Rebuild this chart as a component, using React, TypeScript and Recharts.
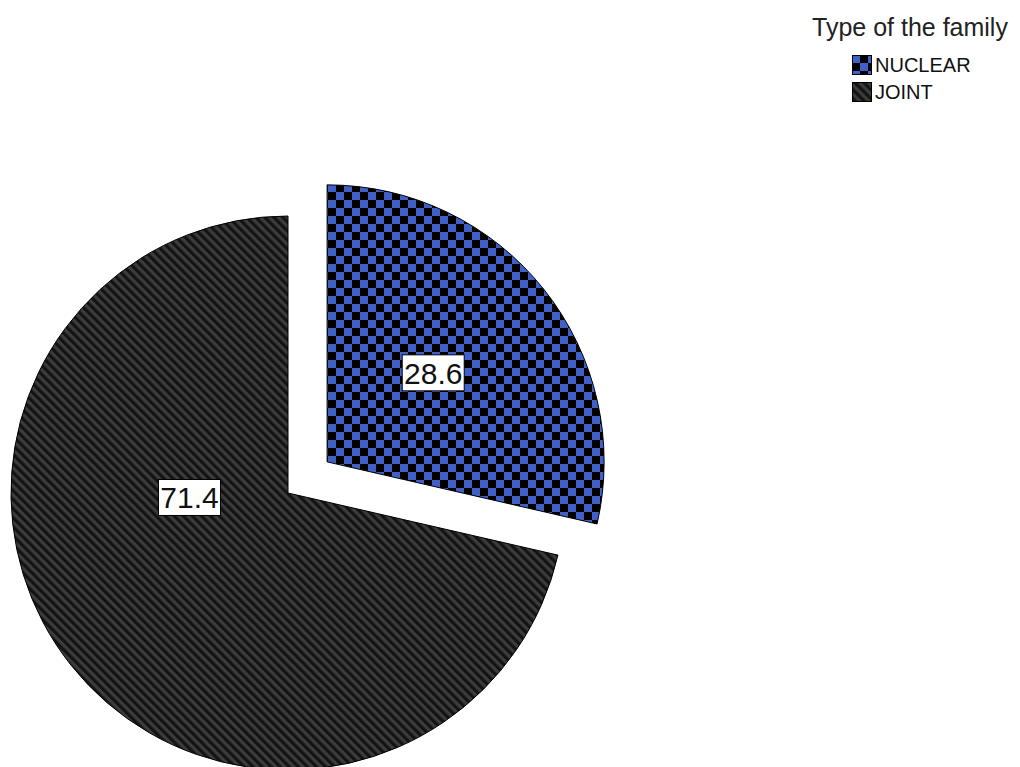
import React from "react";
import { PieChart, Pie, Cell, Legend } from "recharts";

const categories = ["NUCLEAR", "JOINT"];
const percents = [28.6, 71.4];
const legendTitle = "Type of the family";

const W = 1020;
const H = 767;
const CX = 288;
const CY = 493;
const R = 277;
const EXPLODE = 50; // nuclear slice is pulled out
const START = 90;
const END = -270;
const FONT = "'Liberation Sans', Arial, sans-serif";
const BLUE = "#4060c8";
const SQ = 8; // checker square
const ST = 6.4; // stripe period

// where each value label sits: angle (deg, math) and fraction of radius
const LABEL_POS = [
  { angle: 40, dist: 0.5 },
  { angle: 182.6, dist: 0.356 },
];

const data = categories.map((name, i) => ({ name, value: percents[i] }));
const total = percents.reduce((a, b) => a + b, 0);
const midNuclear = ((START - ((percents[0] / total) * 360) / 2) * Math.PI) / 180;
const EX_CX = CX + EXPLODE * Math.cos(midNuclear);
const EX_CY = CY - EXPLODE * Math.sin(midNuclear);

function Patterns({ prefix }: { prefix: string }) {
  return (
    <defs>
      <pattern id={`${prefix}checker`} width={SQ * 2} height={SQ * 2} patternUnits="userSpaceOnUse">
        <rect width={SQ * 2} height={SQ * 2} fill="#000" />
        <rect width={SQ} height={SQ} fill={BLUE} />
        <rect x={SQ} y={SQ} width={SQ} height={SQ} fill={BLUE} />
      </pattern>
      <pattern
        id={`${prefix}stripes`}
        width={ST}
        height={ST}
        patternUnits="userSpaceOnUse"
        patternTransform="rotate(-45)"
      >
        <rect width={ST} height={ST} fill="#3c3c3c" />
        <rect width={ST / 2} height={ST} fill="#131313" />
      </pattern>
    </defs>
  );
}

const FILLS = ["checker", "stripes"];

const makeLabel = (show: number, cx: number, cy: number) => (props: any) => {
  if (props.index !== show) return null;
  const p = LABEL_POS[show];
  const a = (p.angle * Math.PI) / 180;
  const x = cx + Math.cos(a) * R * p.dist;
  const y = cy - Math.sin(a) * R * p.dist;
  return (
    <g key={`lbl-${show}`}>
      <rect x={x - 31} y={y - 18} width={62} height={36} fill="#fff" stroke="#000" strokeWidth={1} />
      <text
        x={x}
        y={y + 11}
        textAnchor="middle"
        fontSize={30}
        fontFamily={FONT}
        fill="#111"
      >
        {props.value.toFixed(1)}
      </text>
    </g>
  );
};

function FamilyLegend() {
  return (
    <div style={{ fontFamily: FONT, color: "#222", position: "relative", width: 208, height: 100 }}>
      <div style={{ position: "absolute", left: 0, top: 1, fontSize: 25, lineHeight: "28px", whiteSpace: "nowrap" }}>
        {legendTitle}
      </div>
      {categories.map((name, i) => (
        <div
          key={name}
          style={{ position: "absolute", left: 40, top: 43 + i * 27, height: 20, display: "flex", alignItems: "center" }}
        >
          <svg width={20} height={20} style={{ display: "block" }}>
            <Patterns prefix={`lg${i}`} />
            <rect x={0.5} y={0.5} width={19} height={19} fill={`url(#lg${i}${FILLS[i]})`} stroke="#000" />
          </svg>
          <span style={{ fontSize: 20, lineHeight: "20px", marginLeft: 3, color: "#111" }}>{name}</span>
        </div>
      ))}
    </div>
  );
}

export default function App() {
  return (
    <div style={{ position: "absolute", left: 0, top: 0, width: W, height: H, background: "#fff" }}>
      <PieChart width={W} height={H} margin={{ top: 0, right: 0, bottom: 0, left: 0 }}>
        <Patterns prefix="" />
        <Pie
          data={data}
          dataKey="value"
          nameKey="name"
          cx={CX}
          cy={CY}
          outerRadius={R}
          startAngle={START}
          endAngle={END}
          isAnimationActive={false}
          labelLine={false}
          label={makeLabel(1, CX, CY)}
        >
          {data.map((d, i) => (
            <Cell
              key={`base-${d.name}`}
              fill={i === 1 ? `url(#${FILLS[i]})` : "transparent"}
              stroke={i === 1 ? "#000" : "none"}
              strokeWidth={1}
            />
          ))}
        </Pie>
        <Pie
          data={data}
          dataKey="value"
          nameKey="name"
          cx={EX_CX}
          cy={EX_CY}
          outerRadius={R}
          startAngle={START}
          endAngle={END}
          isAnimationActive={false}
          labelLine={false}
          label={makeLabel(0, EX_CX, EX_CY)}
        >
          {data.map((d, i) => (
            <Cell
              key={`ex-${d.name}`}
              fill={i === 0 ? `url(#${FILLS[i]})` : "transparent"}
              stroke={i === 0 ? "#000" : "none"}
              strokeWidth={1}
            />
          ))}
        </Pie>
        <Legend
          content={() => <FamilyLegend />}
          wrapperStyle={{ position: "absolute", left: 812, top: 12, width: 208 }}
        />
      </PieChart>
    </div>
  );
}
